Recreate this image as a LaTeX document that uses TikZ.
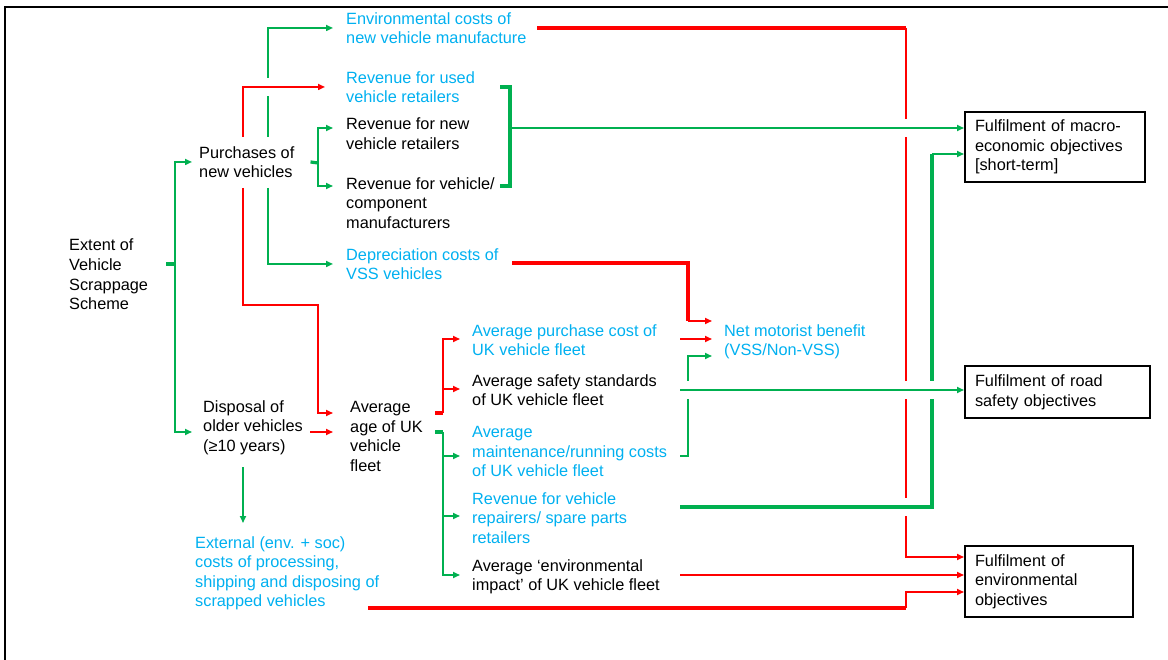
\documentclass[tikz,border=0pt]{standalone}
\usepackage{fontspec}
\setmainfont{Liberation Sans}
\usetikzlibrary{arrows.meta}

\definecolor{posgreen}{RGB}{0,176,80}
\definecolor{negred}{RGB}{255,0,0}
\definecolor{costblue}{RGB}{0,176,240}

\tikzset{
  lbl/.style={anchor=north west, align=left, inner sep=0pt,
    font=\fontsize{16.3}{19.6}\selectfont},
  cost/.style={lbl, text=costblue},
  goal/.style={draw, line width=2pt, align=left, inner xsep=10pt, inner ysep=0pt,
    font=\fontsize{16.3}{19.6}\selectfont},
  gline/.style={draw=posgreen, line width=1.6pt},
  rline/.style={draw=negred, line width=1.6pt},
  fat/.style={line width=3.2pt},
  arrowto/.style={-{Triangle[length=7pt,width=6pt]}, shorten >=#1},
  arrowto/.default=12pt,
}
% white cut where a line passes under another
\newcommand{\gapat}[2]{\fill[white] (#1-5,#2-9) rectangle (#1+5,#2+9);}

\begin{document}
\begin{tikzpicture}[x=1pt,y=-1pt]
  \useasboundingbox (0,0) rectangle (1168,660);
  % frame
  \draw[line width=2pt] (5,660) -- (5,7) -- (1168,7);

  % first columns
  \node[lbl] (extent) at (69,239) {Extent of\\Vehicle\\Scrappage\\Scheme};
  \node[lbl] (purch) at (199,146) {Purchases of\\new vehicles};
  \node[lbl] (disposal) at (203,400) {Disposal of\\older vehicles\\(≥10 years)};
  \node[cost] (external) at (195,536) {External (env. + soc)\\costs of processing,\\shipping and disposing of\\scrapped vehicles};
  \node[lbl] (avgage) at (350,401) {Average\\age of UK\\vehicle\\fleet};

  % effects of purchases
  \node[cost] (envcost) at (346,12) {Environmental costs of\\new vehicle manufacture};
  \node[cost] (usedrev) at (346,71) {Revenue for used\\vehicle retailers};
  \node[lbl] (newrev) at (346,118) {Revenue for new\\vehicle retailers};
  \node[lbl] (comprev) at (346,177) {Revenue for vehicle/\\component\\manufacturers};
  \node[cost] (deprec) at (346,248) {Depreciation costs of\\VSS vehicles};

  % effects of fleet age
  \node[cost] (purchcost) at (472,324) {Average purchase cost of\\UK vehicle fleet};
  \node[lbl] (safety) at (472,374) {Average safety standards\\of UK vehicle fleet};
  \node[cost] (maint) at (472,426) {Average\\maintenance/running costs\\of UK vehicle fleet};
  \node[cost] (repair) at (472,492) {Revenue for vehicle\\repairers/ spare parts\\retailers};
  \node[lbl] (envimpact) at (472,559) {Average ‘environmental\\impact’ of UK vehicle fleet};
  \node[cost] (netben) at (724,324) {Net motorist benefit\\(VSS/Non-VSS)};

  % objectives
  \node[goal, text width=160pt, minimum height=70pt] (macro) at (1055,147) {Fulfilment of macro-\\economic objectives\\{[short-term]}};
  \node[goal, text width=165pt, minimum height=52pt] (road) at (1057.5,392) {Fulfilment of road\\safety objectives};
  \node[goal, text width=148pt, minimum height=71pt] (envobj) at (1049,581.5) {Fulfilment of\\environmental\\objectives};

  % scheme splits in two
  \draw[gline,fat] (166,264) -- (175,264);
  \draw[gline,arrowto=7pt] (175,264) |- (purch.west);
  \draw[gline,arrowto=11pt] (175,264) |- (disposal.west |- 0,432);

  % from purchases
  \draw[gline,arrowto=13pt] (268,137) |- (envcost.west);
  \draw[gline,arrowto=13pt] (268,188) |- (deprec.west);
  \gapat{268}{87}
  \draw[rline,arrowto=21pt] (243,137) |- (usedrev.west);
  \draw[rline,arrowto=17pt] (243,188) |- (318,305) |- (avgage.west |- 0,413);
  \draw[gline,fat] ([xshift=16pt]purch.east) -- (318,163);
  \draw[gline,arrowto=13pt] (318,163) |- (newrev.west |- 0,128);
  \draw[gline,arrowto=13pt] (318,163) |- (comprev.west |- 0,186);

  % from disposal
  \draw[rline,arrowto=17pt] (310,432) -- (avgage.west |- 0,432);
  \draw[gline,arrowto=13pt] (243,467) -- (external.north -| 243,0);

  % from fleet age
  \draw[rline,fat] (435,413) -- (443,413);
  \draw[rline,arrowto] (443,413) |- (purchcost.west |- 0,339);
  \draw[rline,arrowto] (443,413) |- (safety.west |- 0,389);
  \draw[gline,fat] (435,432) -- (443,432);
  \draw[gline,arrowto] (443,432) |- (maint.west |- 0,456);
  \draw[gline,arrowto] (443,432) |- (repair.west |- 0,516);
  \draw[gline,arrowto] (443,432) |- (envimpact.west |- 0,575);

  % into net motorist benefit
  \draw[rline,fat] (512,263) -| (688,321);
  \draw[rline,arrowto] (688,321) -- (netben.west |- 0,321);
  \draw[rline,arrowto] (680,339) -- (netben.west |- 0,339);
  \draw[gline,arrowto] (680,456) -| (688,356) -- (netben.west |- 0,356);

  % environmental costs to environmental objectives
  \draw[rline,fat] (537,28) -- (906,28);
  \draw[rline,arrowto=0pt] (906,28) |- (envobj.west |- 0,557);
  \draw[rline,arrowto=0pt] (680,575) -- (envobj.west |- 0,575);
  \draw[rline,fat] (368,608) -- (906,608);
  \draw[rline,arrowto=0pt] (906,608) |- (envobj.west |- 0,592);

  % repairers to macro-economic objectives
  \gapat{906}{507}
  \draw[gline,fat] (680,507) -| (932,154);
  \draw[gline,arrowto=0pt] (932,154) -- (macro.west |- 0,154);

  % safety to road safety objectives
  \gapat{906}{390}
  \gapat{932}{390}
  \gapat{688}{390}
  \draw[gline,arrowto=0pt] (680,390) -- (road.west |- 0,390);

  % revenues to macro-economic objectives
  \draw[gline,fat] (500,87) -- (510,87) -- (510,186) -- (500,186);
  \gapat{906}{128}
  \draw[gline,arrowto=0pt] (510,128) -- (macro.west |- 0,128);
\end{tikzpicture}
\end{document}
